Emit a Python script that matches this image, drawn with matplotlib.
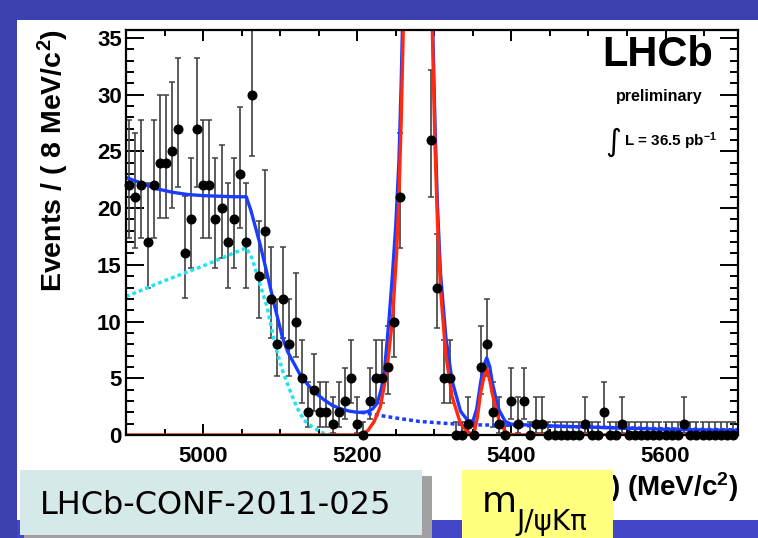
import numpy as np
import matplotlib
matplotlib.use("Agg")
import matplotlib.pyplot as plt
from matplotlib.patches import Rectangle
from matplotlib.ticker import MultipleLocator
from matplotlib.transforms import Bbox, TransformedBbox

plt.rcParams["mathtext.fontset"] = "custom"
plt.rcParams["mathtext.rm"] = "Liberation Sans"
plt.rcParams["mathtext.bf"] = "Liberation Sans:bold"
plt.rcParams["mathtext.it"] = "Liberation Sans:italic"

W, H = 758, 538

# ---- data: m(J/psi K pi) histogram, 8 MeV bins starting at 4900 ------------
bin_first = 4904
bin_width = 8
counts = [22, 21, 22, 17, 22, 24, 24, 25, 27, 16,
          19, 27, 22, 22, 19, 20, 17, 19, 23, 17,
          30, 14, 18, 12, 8, 12, 8, 10, 5, 2,
          4, 2, 2, 1, 2, 3, 5, 1, 0, 3,
          5, 5, 6, 10, 21, 90, 200, 230, 130, 26,
          13, 5, 5, 0, 0, 1, 0, 6, 8, 2,
          1, 0, 3, 1, 3, 0, 1, 1, 0, 0,
          0, 0, 0, 0, 1, 0, 0, 2, 0, 0,
          1, 0, 0, 0, 0, 0, 0, 0, 0, 0,
          1, 0, 0, 0, 0, 0, 0, 0, 0]

# total fit (blue solid)
tot_m = [4900, 4920, 4940, 4960, 4980, 5000, 5020, 5040, 5056, 5062, 5068,
         5074, 5081, 5092, 5103, 5110, 5118, 5126, 5135, 5146, 5157, 5168,
         5179, 5190, 5200, 5208, 5213, 5220, 5226, 5231, 5235, 5241, 5245,
         5250, 5254, 5257, 5259, 5265, 5272, 5280, 5288, 5294, 5297, 5301,
         5304, 5308, 5315, 5323, 5334, 5343, 5350, 5355, 5360, 5364, 5368,
         5372, 5375, 5380, 5384, 5392, 5400, 5450, 5500, 5550, 5600, 5650, 5694]
tot_v = [22.7, 22.2, 21.7, 21.4, 21.2, 21.1, 21.05, 21.0, 21.0, 19.8, 18.3,
         16.8, 14.8, 11.6, 8.6, 7.3, 6.3, 5.3, 4.5, 3.7, 3.1, 2.6,
         2.3, 2.1, 2.0, 2.0, 2.05, 2.3, 2.8, 4.0, 5.4, 10.0, 13.5,
         18.5, 24.0, 31.0, 37.0, 92, 192, 237, 162, 72, 38.5, 27.2,
         20.4, 14.3, 8.6, 4.8, 2.1, 1.3, 1.2, 2.3, 4.6, 6.1, 6.8,
         6.0, 4.7, 3.2, 2.2, 1.2, 0.95, 0.8, 0.7, 0.6, 0.5, 0.45, 0.4]

# signal peaks (red)
sig_m = [4900, 5200, 5206, 5214, 5222, 5230, 5238, 5245.6, 5251, 5254, 5257,
         5260, 5265, 5272, 5280, 5288, 5294, 5297, 5300.8, 5304, 5308, 5314.7,
         5323, 5334, 5343, 5349, 5352, 5356, 5360, 5364, 5368, 5372, 5375,
         5380, 5384, 5392, 5398, 5410, 5694]
sig_v = [0, 0, 0.05, 0.4, 1.2, 2.5, 5.4, 10.1, 15.9, 20.8, 27.6,
         36.5, 90, 190, 235, 160, 70, 37, 25.7, 18.9, 12.9, 7.2,
         3.4, 1.0, 0.3, 0.05, 0.3, 1.6, 3.7, 5.0, 5.8, 4.8, 3.7,
         2.3, 1.3, 0.3, 0.05, 0, 0]

# partially reconstructed background (cyan dashed)
pr_m = [4900, 4950, 5000, 5056, 5064, 5071, 5077, 5083, 5093, 5103, 5114,
        5122, 5131, 5140, 5148, 5157, 5166, 5175]
pr_v = [12.2, 13.6, 14.9, 16.5, 15.5, 13.9, 12.6, 11.3, 8.0, 5.7, 3.7,
        2.4, 1.3, 0.8, 0.44, 0.15, 0.0, 0.0]

# combinatorial background (blue dashed)
comb_m = [5205, 5215, 5250, 5280, 5320, 5350, 5400, 5500, 5600, 5694]
comb_v = [2.0, 1.88, 1.5, 1.2, 1.0, 0.9, 0.85, 0.7, 0.55, 0.45]

x_lo, x_hi = 4900, 5694
y_hi = 35.7


def fx(px):
    return px / W


def fy(py):
    return 1 - py / H


n = np.array(counts, dtype=float)
mass = bin_first + bin_width * np.arange(len(n))
# Poisson 68% intervals (Garwood approx.; RooFit uses 1.148 for n = 0)
with np.errstate(divide="ignore", invalid="ignore"):
    lo = np.where(n > 0, n - n * (1 - 1 / (9 * n) - 1 / (3 * np.sqrt(n))) ** 3, 0.0)
hi = np.where(n > 0, np.sqrt(n + 0.75) + 1, 1.148)

fig = plt.figure(figsize=(W / 100, H / 100), dpi=100, facecolor="#3c3fae")
fig.patches.append(Rectangle((fx(17), fy(520)), (W - 17) / W, 500 / H,
                             transform=fig.transFigure, fc="white", ec="none", zorder=-5))

ax = fig.add_axes([fx(126), fy(435), (738 - 126) / W, (435 - 30) / H])
ax.errorbar(mass, n, yerr=[lo, hi], fmt="none", ecolor="#404040", elinewidth=1.2,
            capsize=2.2, capthick=1.1, zorder=2)
vis = n <= y_hi
ax.plot(mass[vis], n[vis], "o", color="black", ms=6.2, clip_on=False, zorder=6)

ax.plot(pr_m, pr_v, color="#20e4f4", lw=2.5, ls=(0, (1.1, 0.9)), zorder=3)
ax.plot(comb_m, comb_v, color="#1a3cff", lw=2.5, ls=(0, (1.1, 0.9)), zorder=3)
ax.plot(tot_m, tot_v, color="#1a3cff", lw=2.4, zorder=4)
ax.plot(sig_m, sig_v, color="#ff2a10", lw=2.4, zorder=4.5)

ax.set_xlim(x_lo, x_hi)
ax.set_ylim(0, y_hi)
ax.xaxis.set_major_locator(MultipleLocator(200))
ax.xaxis.set_minor_locator(MultipleLocator(50))
ax.yaxis.set_major_locator(MultipleLocator(5))
ax.yaxis.set_minor_locator(MultipleLocator(1))
ax.tick_params(which="both", direction="in", top=True, right=True, width=1.4)
ax.tick_params(axis="y", which="major", length=13, pad=3)
ax.tick_params(axis="y", which="minor", length=6)
ax.tick_params(axis="x", which="major", length=8, pad=8)
ax.tick_params(axis="x", which="minor", length=4)
for lab in ax.get_xticklabels() + ax.get_yticklabels():
    lab.set_fontfamily("Liberation Sans")
    lab.set_fontweight("bold")
    lab.set_fontsize(16)
for sp in ax.spines.values():
    sp.set_linewidth(1.6)
    sp.set_zorder(5)

bold = dict(family="Liberation Sans", weight="bold", color="black")
fig.text(fx(53), fy(29), r"Events / ( 8 MeV/c$^{\mathbf{2}}$)", rotation=90,
         ha="center", va="top", fontsize=20.5, **bold)
xlab = fig.text(fx(738), fy(487), r"m(J/ψKπ) (MeV/c$^{\mathbf{2}}$)", ha="right",
                va="center", fontsize=20, **bold)
# the slide's yellow label box hides the left part of the axis title
xlab.set_clip_box(TransformedBbox(Bbox([[fx(613), 0], [1, 1]]), fig.transFigure))
xlab.set_clip_on(True)
fig.text(fx(713), fy(35), "LHCb", ha="right", va="top", fontsize=30, **bold)
fig.text(fx(703), fy(97), "preliminary", ha="right", va="center", fontsize=11.5, **bold)
fig.text(fx(613), fy(142), "∫", ha="center", va="center", fontsize=22,
         family="DejaVu Sans")
fig.text(fx(624), fy(141), r"L = 36.5 pb$^{\mathbf{-1}}$", ha="left", va="center",
         fontsize=11, **bold)

# slide overlays
fig.patches.append(Rectangle((fx(17), fy(538)), (W - 17) / W, 18 / H,
                             transform=fig.transFigure, fc="#4346c6", ec="none", zorder=10))
fig.patches.append(Rectangle((fx(24), fy(540)), (432 - 24) / W, (540 - 476) / H,
                             transform=fig.transFigure, fc="#a0a0a0", ec="none", zorder=11))
fig.patches.append(Rectangle((fx(20), fy(535)), (422 - 20) / W, (535 - 470) / H,
                             transform=fig.transFigure, fc="#d5eae8", ec="none", zorder=12))
fig.text(fx(40), fy(505), "LHCb-CONF-2011-025", ha="left", va="center", fontsize=23,
         family="DejaVu Sans", color="black", zorder=13)
fig.patches.append(Rectangle((fx(462), fy(538)), (613 - 462) / W, (538 - 470) / H,
                             transform=fig.transFigure, fc="#ffff80", ec="none", zorder=12))
fig.text(fx(482), fy(512), "m", ha="left", va="baseline", fontsize=26,
         family="DejaVu Sans", zorder=13)
fig.text(fx(516), fy(530), "J/ψKπ", ha="left", va="baseline", fontsize=20,
         family="DejaVu Sans", zorder=13)

fig.savefig("out.png", dpi=100, facecolor=fig.get_facecolor())
